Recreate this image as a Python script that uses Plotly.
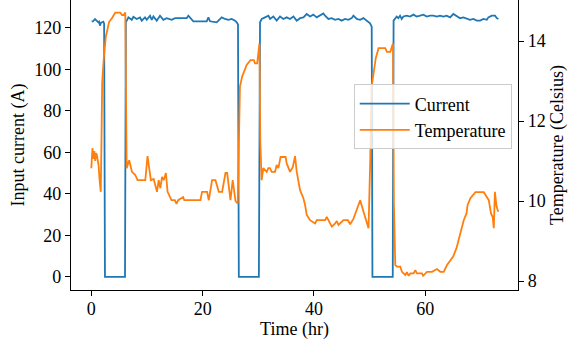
import plotly.graph_objects as go

# Current (A) readings: time (hr), value
cur_t = [0.07, 0.35, 0.66, 0.95, 1.26, 1.4, 1.56, 1.7, 1.87, 2.16, 2.3, 2.45, 4.0, 6.05,
         6.2, 6.36, 6.66, 7.26, 7.55, 8.15, 8.75, 9.05, 9.65, 9.95, 10.55, 10.85, 11.15, 11.75,
         12.34, 12.94, 13.54, 14.44, 15.04, 15.94, 17.13, 17.43, 18.03, 18.33, 19.53, 20.73,
         21.03, 21.33, 22.52, 23.42, 24.02, 24.62, 25.22, 25.82, 26.12, 26.35, 26.5, 28.0, 30.1,
         30.31, 30.61, 31.21, 31.81, 32.11, 32.70, 33.30, 33.90, 34.50, 35.10, 35.70, 36.30,
         36.90, 37.50, 38.10, 38.69, 39.29, 39.89, 40.49, 41.09, 41.69, 41.99, 42.59, 43.19,
         43.79, 44.38, 44.98, 45.58, 46.18, 46.78, 47.08, 47.68, 48.28, 48.88, 49.47, 50.07,
         50.37, 50.5, 52.0, 54.15,
         54.3, 54.56, 54.86, 55.16, 55.46, 55.76, 56.06, 56.66, 57.26, 57.86, 58.46, 59.06,
         59.66, 60.25, 60.85, 61.45, 62.05, 62.65, 63.24, 63.84, 64.44, 65.04, 65.64, 66.24,
         66.84, 67.44, 68.04, 68.64, 69.24, 69.84, 70.44, 71.04, 71.33, 71.93, 72.53, 72.83, 73.13]
cur_v = [122.9, 123.2, 124.2, 123.4, 122.6, 122.9, 121.0, 122.3, 122.6, 122.9, 122.0, 0, 0, 0,
         123.0, 123.4, 125.0, 123.8, 125.3, 124.2, 125.0, 123.4, 125.0, 123.8, 125.8, 123.8, 125.4, 123.4,
         125.8, 123.8, 124.6, 123.8, 124.6, 124.6, 124.6, 125.8, 123.8, 123.1, 123.1, 123.1,
         125.0, 123.1, 122.6, 125.0, 124.2, 123.8, 124.2, 123.4, 122.6, 121.5, 0, 0, 0,
         122.6, 124.2, 125.0, 125.8, 124.2, 125.4, 123.4, 125.4, 124.2, 125.0, 124.2, 125.4,
         123.4, 124.6, 125.0, 126.6, 125.4, 126.3, 125.0, 125.8, 126.9, 125.8, 124.2, 124.6,
         123.8, 124.2, 123.4, 124.2, 123.8, 124.6, 125.8, 124.2, 123.8, 124.6, 123.4, 122.1,
         120.5, 0, 0, 0,
         123.4, 124.2, 125.4, 124.6, 125.8, 124.2, 125.4, 125.8, 125.4, 126.3, 125.4, 125.8,
         126.3, 125.4, 125.8, 125.8, 125.4, 125.8, 125.4, 125.8, 125.0, 126.6, 125.8, 124.6,
         125.0, 124.2, 123.8, 124.2, 123.4, 123.4, 124.2, 123.8, 125.0, 125.8, 125.8, 124.6, 124.2]

# Temperature (Celsius) readings: time (hr), value
tmp_t = [0.0, 0.2, 0.4, 0.55, 0.7, 0.85, 1.0, 1.3, 1.5, 1.7, 1.85, 1.95, 2.2, 2.6, 3.2, 3.7, 4.3,
         5.2, 5.5, 5.8, 6.1, 6.25, 6.35, 6.8, 7.3, 7.9, 8.3, 9.7, 10.1, 10.7, 11.2, 11.8, 12.1,
         12.4, 12.7, 13.0, 13.4, 13.7, 14.1, 14.4, 15.0, 15.3, 15.6, 16.5, 16.7, 19.6, 19.9,
         20.4, 20.8, 21.1, 21.7, 22.3, 22.9, 23.5, 24.1, 24.4, 25.0, 25.4, 25.9, 26.3, 26.5,
         26.7, 27.1, 27.6, 27.9, 28.6, 29.2, 29.4, 29.8, 30.2, 30.35, 30.6, 30.9, 31.5, 31.8,
         32.1, 32.4, 33.0, 33.3, 33.6, 34.0, 34.9, 35.1, 35.7, 36.2, 36.6, 36.9, 37.5, 38.1,
         38.4, 38.7, 39.3, 40.2, 40.5, 42.0, 42.3, 42.6, 43.2, 43.8, 44.1, 44.4, 45.3, 46.1,
         46.5, 47.1, 47.7, 48.3, 48.9, 49.5, 49.8, 50.1, 50.2, 50.35, 50.7, 51.1, 51.6, 52.8,
         53.1, 53.7, 54.2, 54.35, 54.6, 54.9, 55.5, 55.8, 56.4, 56.7, 57.0, 57.3, 57.9, 58.2,
         58.5, 59.4, 59.6, 60.3, 61.2, 62.1, 62.7, 63.3, 63.9, 64.5, 65.0, 65.6, 66.0, 66.5,
         66.9, 67.4, 67.6, 68.1, 68.5, 69.0, 70.5, 71.0, 71.4, 71.8, 72.1, 72.3, 72.5, 72.8, 73.1]
tmp_v = [10.82, 11.32, 11.05, 11.25, 11.0, 11.2, 11.15, 10.9, 10.5, 10.23, 11.8, 12.95, 13.5,
         14.1, 14.48, 14.57, 14.71, 14.71, 14.65, 14.65, 14.71, 12.0, 10.82, 11.02, 10.73, 10.65,
         10.52, 10.52, 11.12, 10.52, 10.55, 10.23, 10.52, 10.32, 10.6, 10.52, 10.7, 10.23, 10.11,
         10.02, 10.02, 9.93, 10.02, 10.1, 10.02, 10.02, 10.23, 10.23, 10.23, 10.02, 10.52, 10.52,
         10.23, 10.23, 10.7, 10.7, 10.02, 10.52, 10.0, 9.93, 11.5, 12.86, 13.11, 13.28, 13.4,
         13.52, 13.52, 13.44, 13.44, 13.94, 11.5, 10.52, 10.82, 10.73, 10.82, 10.82, 10.73,
         10.73, 10.9, 10.82, 11.1, 11.1, 10.94, 10.73, 10.85, 11.12, 10.73, 10.27, 10.07, 9.9,
         9.65, 9.52, 9.44, 9.52, 9.52, 9.6, 9.52, 9.36, 9.44, 9.5, 9.4, 9.52, 9.52, 9.42, 9.56,
         9.78, 10.02, 9.73, 9.48, 9.32, 11.0, 11.5, 12.86, 13.19, 13.57, 13.82, 13.82, 13.73,
         13.73, 13.94, 10.0, 8.4, 8.36, 8.36, 8.23, 8.15, 8.22, 8.13, 8.19, 8.19, 8.27, 8.19,
         8.19, 8.13, 8.23, 8.23, 8.3, 8.23, 8.23, 8.4, 8.52, 8.61, 8.82, 9.02, 9.27, 9.52, 9.69,
         9.9, 10.07, 10.15, 10.22, 10.22, 10.1, 10.02, 9.69, 9.6, 9.32, 10.23, 9.86, 9.73]

x_ticks = [0, 20, 40, 60]
y1_ticks = [0, 20, 40, 60, 80, 100, 120]
y2_ticks = [8, 10, 12, 14]

FONT = "Liberation Serif"
FS = 18

fig = go.Figure()
fig.add_trace(go.Scatter(x=cur_t, y=cur_v, mode="lines", name="Current",
                         line=dict(color="#1f77b4", width=1.8), yaxis="y"))
fig.add_trace(go.Scatter(x=tmp_t, y=tmp_v, mode="lines", name="Temperature",
                         line=dict(color="#ff7f0e", width=1.8), yaxis="y2"))

axis_common = dict(showline=True, linecolor="black", linewidth=1.2, ticks="outside",
                   ticklen=5, tickwidth=1, tickcolor="black", showgrid=False, zeroline=False,
                   tickfont=dict(family=FONT, size=FS, color="black"))

fig.update_layout(
    width=568, height=348,
    margin=dict(l=71, r=50, t=0, b=58),
    paper_bgcolor="white", plot_bgcolor="white",
    font=dict(family=FONT, size=FS, color="black"),
    xaxis=dict(range=[-3.65, 76.65], tickvals=x_ticks, ticklabelstandoff=-3,
               title=dict(text="Time (hr)", font=dict(family=FONT, size=FS, color="black"), standoff=0),
               **axis_common),
    yaxis=dict(range=[-6.35, 133.35], tickvals=y1_ticks,
               title=dict(text="Input current (A)", font=dict(family=FONT, size=FS, color="black"), standoff=4),
               **axis_common),
    yaxis2=dict(range=[7.775, 15.025], tickvals=y2_ticks, overlaying="y", side="right",
                title=dict(text="Temperature (Celsius)", font=dict(family=FONT, size=FS, color="black"), standoff=6),
                **axis_common),
    legend=dict(x=0.986, y=0.597, xanchor="right", yanchor="middle",
                bgcolor="rgba(255,255,255,0.8)", bordercolor="#cccccc", borderwidth=1,
                font=dict(family=FONT, size=FS, color="black"), itemwidth=50),
    showlegend=True,
)

fig.write_html("out.html")
